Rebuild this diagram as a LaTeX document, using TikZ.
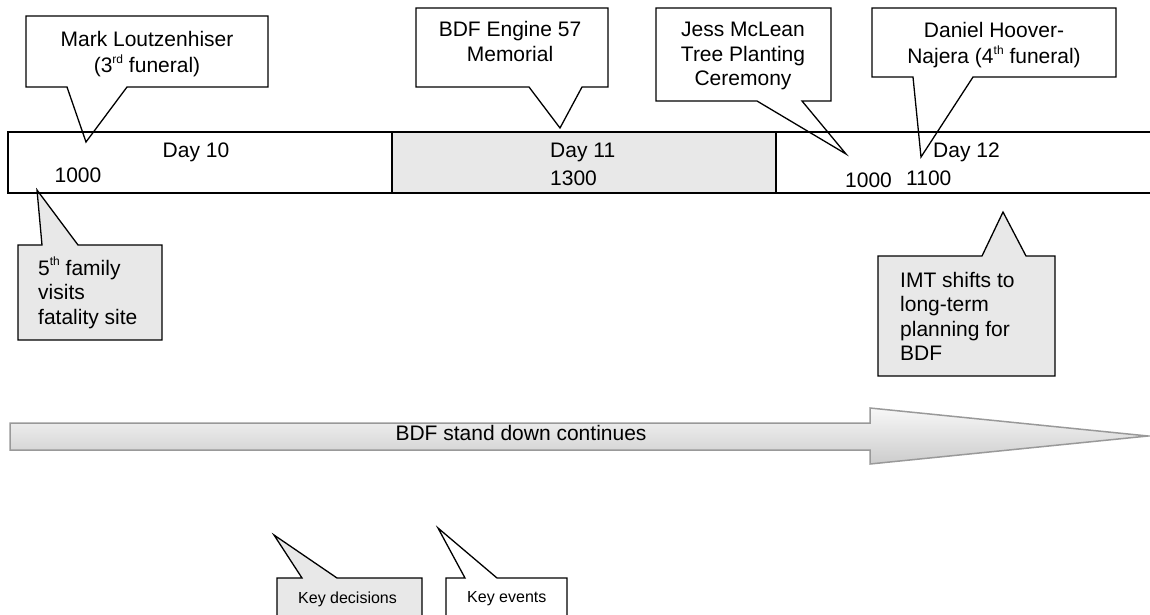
\documentclass[tikz,border=0pt]{standalone}
\usepackage{fontspec}
\setmainfont{Liberation Sans}
\usetikzlibrary{shadings}
\definecolor{boxgray}{HTML}{E8E8E8}
\definecolor{arrowgray}{HTML}{999999}
\newcommand\mylines[2][c]{\begin{tabular}[t]{@{}#1@{}}#2\end{tabular}}
\newcommand\mysup[1]{\raisebox{0.45em}{\fontsize{12}{12}\selectfont #1}}
\tikzset{
  big/.style={font=\fontsize{21}{24.5}\selectfont, inner sep=0pt},
  small/.style={font=\fontsize{16}{19}\selectfont, inner sep=0pt},
  callout/.style={draw=black, line width=1.3pt, line join=miter},
  whitebox/.style={callout, fill=white},
  graybox/.style={callout, fill=boxgray},
  dayframe/.style={draw=black, line width=1.8pt},
}
\begin{document}
\begin{tikzpicture}[x=1pt,y=-1pt]
\useasboundingbox (0,0) rectangle (1150,615);
\clip (0,0) rectangle (1150,615);

% timeline fills
\fill[white] (8,132) rectangle (392,193);
\fill[boxgray] (392,132) rectangle (776,193);
\fill[white] (776,132) rectangle (1170,193);

% top callouts
\draw[whitebox] (26,16) -- (268,16) -- (268,87) -- (127,87) -- (86,142) -- (67,87) -- (26,87) -- cycle;
\draw[whitebox] (416,8) -- (608,8) -- (608,87) -- (582,87) -- (560,128) -- (529,87) -- (416,87) -- cycle;
\draw[whitebox] (656,8) -- (831,8) -- (831,101) -- (802,101) -- (846,154) -- (757,101) -- (656,101) -- cycle;
\draw[whitebox] (872,8) -- (1116,8) -- (1116,77) -- (973,77) -- (921,157) -- (913,77) -- (872,77) -- cycle;

% bottom callouts (decisions)
\draw[graybox] (18,245) -- (42,245) -- (37,190) -- (78,245) -- (162,245) -- (162,340) -- (18,340) -- cycle;
\draw[graybox] (878,256) -- (982,256) -- (1003,212) -- (1026,256) -- (1055,256) -- (1055,376) -- (878,376) -- cycle;

% timeline frames
\draw[dayframe] (8,132) rectangle (392,193);
\draw[dayframe] (392,132) rectangle (776,193);
\draw[dayframe] (776,132) rectangle (1170,193);

% callout texts
\node[big, anchor=base] (mark) at (147,47) {\mylines{Mark Loutzenhiser\\(3\mysup{rd} funeral)}};
\node[big, anchor=base] (bdf) at (510,37) {\mylines{BDF Engine 57\\Memorial}};
\node[big, anchor=base] (jess) at (743,37) {\mylines{Jess McLean\\Tree Planting\\Ceremony}};
\node[big, anchor=base] (daniel) at (994,38) {\mylines{Daniel Hoover-\\Najera (4\mysup{th} funeral)}};
\node[big, anchor=base west] (family) at (38,275) {\mylines[l]{5\mysup{th} family\\visits\\fatality site}};
\node[big, anchor=base west] (imt) at (900,287) {\mylines[l]{IMT shifts to\\long-term\\planning for\\BDF}};

% day labels
\node[big, anchor=base] (d10) at (196,157) {Day 10};
\node[big, anchor=base] (t10) at (78,182) {1000};
\node[big, anchor=base west] (d11) at (550,157) {Day 11};
\node[big, anchor=base west] (t11) at (550,185) {1300};
\node[big, anchor=base west] (d12) at (933,157) {Day 12};
\node[big, anchor=base west] (t12a) at (845,187) {1000};
\node[big, anchor=base west] (t12b) at (906,185) {1100};

% big arrow
\draw[draw=arrowgray, line width=1.5pt, line join=miter, top color=gray!6, middle color=white, bottom color=gray!40]
  (10,423) -- (870,423) -- (870,408) -- (1148,436) -- (870,464) -- (870,450) -- (10,450) -- cycle;
\node[big, anchor=base] (standdown) at (521,440) {BDF stand down continues};

% legend
\draw[graybox] (277,578) -- (302,578) -- (274,535) -- (337,578) -- (422,578) -- (422,630) -- (277,630) -- cycle;
\draw[whitebox] (446,578) -- (465,578) -- (438,528) -- (497,578) -- (567,578) -- (567,630) -- (446,630) -- cycle;
\node[small, anchor=base west] (keydec) at (298,603) {Key decisions};
\node[small, anchor=base west] (keyev) at (467,602) {Key events};
\end{tikzpicture}
\end{document}
